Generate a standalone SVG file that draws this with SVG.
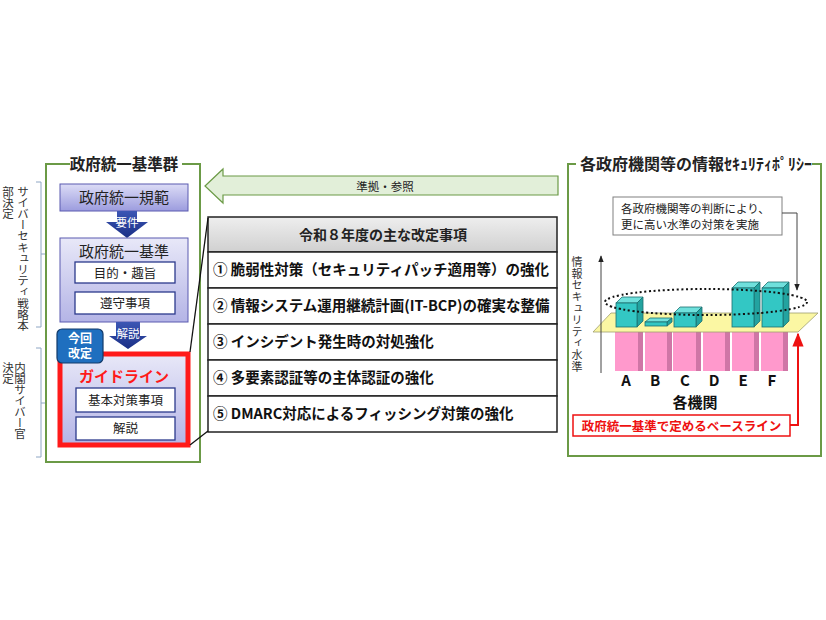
<svg xmlns="http://www.w3.org/2000/svg" width="826" height="620" viewBox="0 0 826 620">
<defs>
  <linearGradient id="gTop" x1="0" y1="0" x2="0" y2="1">
    <stop offset="0" stop-color="#dcdcf6"/>
    <stop offset="1" stop-color="#9c9cde"/>
  </linearGradient>
  <linearGradient id="gMid" x1="0" y1="0" x2="0" y2="1">
    <stop offset="0" stop-color="#e8e8f8"/>
    <stop offset="1" stop-color="#b4b4e6"/>
  </linearGradient>
  <linearGradient id="gHead" x1="0" y1="0" x2="0" y2="1">
    <stop offset="0" stop-color="#eeeeee"/>
    <stop offset="1" stop-color="#d0d0d0"/>
  </linearGradient>
  <linearGradient id="gNavy" x1="0" y1="0" x2="0" y2="1">
    <stop offset="0" stop-color="#3c56b4"/>
    <stop offset="1" stop-color="#1a2f86"/>
  </linearGradient>
  <marker id="mBlack" viewBox="0 0 10 10" refX="9" refY="5" markerWidth="7" markerHeight="7" orient="auto">
    <path d="M0,1 L10,5 L0,9 z" fill="#222"/>
  </marker>
  <marker id="mRed" viewBox="0 0 10 10" refX="9" refY="5" markerWidth="7" markerHeight="7" orient="auto">
    <path d="M0,1 L10,5 L0,9 z" fill="#ee1111"/>
  </marker>
</defs>
<style>
  text { font-family: "Noto Sans CJK JP", "Noto Sans", sans-serif; fill: #222; }
  .b { font-weight: bold; }
  .c { text-anchor: middle; }
  .vt { writing-mode: vertical-rl; fill: #333; }
  .frame { fill: #ffffff; stroke: #6b9a46; stroke-width: 2; }
  .wbox { fill: #ffffff; stroke: #2c3a8c; stroke-width: 1.3; }
  .row { fill: #ffffff; stroke: #222; stroke-width: 1.5; }
  .rt { font-size: 14.5px; font-weight: bold; fill: #111; }
  .teal { fill: #33c7c4; stroke: #1d6f6f; stroke-width: 0.8; }
  .tealT { fill: #6fe0dc; stroke: #1d6f6f; stroke-width: 0.8; }
  .tealS { fill: #23a3a0; stroke: #1d6f6f; stroke-width: 0.8; }
  .pink { fill: #ff99cc; }
  .pinkS { fill: #cf76a6; }
  .lbl { font-size: 15px; font-weight: bold; fill: #111; text-anchor: middle; }
</style>
<rect width="826" height="620" fill="#ffffff"/>

<!-- Left side bracket labels (vertical text) -->
<g id="label-strategy">
  <text class="vt" x="23" y="185.5" font-size="11.5" letter-spacing="-0.3">サイバーセキュリティ戦略本</text>
  <text class="vt" x="8" y="185.5" font-size="11.5" letter-spacing="-0.3">部決定</text>
  <path d="M36,182 H41 V327 H36 M41,254 H46" fill="none" stroke="#8ea6c4" stroke-width="1"/>
</g>
<g id="label-cabinet">
  <text class="vt" x="20" y="361.5" font-size="11.5" letter-spacing="-0.5">内閣サイバー官</text>
  <text class="vt" x="8" y="361.5" font-size="11.5" letter-spacing="-0.5">決定</text>
  <path d="M36,348 H41 V457 H36 M41,403 H46" fill="none" stroke="#8ea6c4" stroke-width="1"/>
</g>

<!-- Left panel -->
<g id="panel-left">
  <rect class="frame" x="46" y="164" width="154" height="298"/>
  <rect x="70" y="154" width="112" height="20" fill="#ffffff"/>
  <text class="b c" x="124" y="170" font-size="15.5">政府統一基準群</text>
</g>

<g id="node-kihan">
  <rect x="60" y="184" width="128" height="27" fill="url(#gTop)" stroke="#5a5ab0" stroke-width="1"/>
  <text class="c" x="124" y="203" font-size="15">政府統一規範</text>
</g>

<g id="arrow-youken">
  <polygon points="117,211 137,211 137,222 148,222 127,238 106,222 117,222" fill="url(#gNavy)"/>
  <text class="c" x="127" y="227" font-size="11.5" style="fill:#ffffff">要件</text>
</g>

<g id="node-kijun">
  <rect x="60" y="238" width="128" height="84" fill="url(#gMid)" stroke="#5a5ab0" stroke-width="1"/>
  <text class="c" x="124" y="257" font-size="15">政府統一基準</text>
  <rect class="wbox" x="75" y="262" width="100" height="21"/>
  <text class="c" x="125" y="277.5" font-size="12.5">目的・趣旨</text>
  <rect class="wbox" x="75" y="292" width="100" height="22"/>
  <text class="c" x="125" y="308" font-size="12.5">遵守事項</text>
</g>

<g id="arrow-kaisetsu">
  <polygon points="116,322 140,322 140,336 147,336 128,349 109,336 116,336" fill="url(#gNavy)"/>
  <text class="c" x="128" y="338" font-size="11.5" style="fill:#ffffff">解説</text>
</g>

<g id="node-guideline">
  <rect x="60" y="354" width="128" height="91" fill="url(#gMid)" stroke="#ff1a1a" stroke-width="5"/>
  <text class="b c" x="124" y="382" font-size="15" style="fill:#ff1a1a">ガイドライン</text>
  <rect class="wbox" x="76" y="388" width="99" height="24"/>
  <text class="c" x="125.5" y="405" font-size="12.5">基本対策事項</text>
  <rect class="wbox" x="76" y="417" width="99" height="23"/>
  <text class="c" x="125.5" y="433" font-size="12.5">解説</text>
</g>

<g id="badge-kaitei">
  <rect x="57" y="329" width="46" height="34" rx="5" fill="#1f6fbf" stroke="#123a6a" stroke-width="1.2"/>
  <text class="b c" font-size="12" style="fill:#ffffff"><tspan x="80" y="342.5">今回</tspan><tspan x="80" y="358">改定</tspan></text>
</g>

<!-- Reference arrow -->
<g id="arrow-junkyo">
  <polygon points="205,186 223,169 223,176 558,176 558,195 223,195 223,203" fill="#e2efd9" stroke="#6b9a46" stroke-width="1.2"/>
  <text class="c" x="385" y="191" font-size="11.5">準拠・参照</text>
</g>

<!-- Revision table -->
<g id="table-revisions">
  <rect x="208" y="217" width="349" height="35" fill="url(#gHead)" stroke="#222" stroke-width="1.5"/>
  <text class="b c" x="383" y="240" font-size="14">令和８年度の主な改定事項</text>
  <rect class="row" x="208" y="252" width="349" height="36"/>
  <text class="rt" x="213" y="275">① 脆弱性対策（セキュリティパッチ適用等）の強化</text>
  <rect class="row" x="208" y="288" width="349" height="36"/>
  <text class="rt" x="213" y="311">② 情報システム運用継続計画(IT-BCP)の確実な整備</text>
  <rect class="row" x="208" y="324" width="349" height="36"/>
  <text class="rt" x="213" y="347">③ インシデント発生時の対処強化</text>
  <rect class="row" x="208" y="360" width="349" height="36"/>
  <text class="rt" x="213" y="383">④ 多要素認証等の主体認証の強化</text>
  <rect class="row" x="208" y="396" width="349" height="36"/>
  <text class="rt" x="213" y="419">⑤ DMARC対応によるフィッシング対策の強化</text>
</g>

<!-- Right panel -->
<g id="panel-right">
  <rect class="frame" x="568" y="164" width="253" height="292"/>
  <rect x="576" y="152" width="236" height="22" fill="#ffffff"/>
  <text class="b" x="580" y="170" font-size="16">各政府機関等の情報ｾｷｭﾘﾃｨﾎﾟﾘｼｰ</text>
</g>

<g id="callout-judgement">
  <rect x="613" y="197" width="169" height="38" fill="#ffffff" stroke="#808080" stroke-width="1"/>
  <text font-size="11.5"><tspan x="621" y="213">各政府機関等の判断により、</tspan><tspan x="621" y="229">更に高い水準の対策を実施</tspan></text>
</g>

<g id="axis-label">
  <text class="vt" x="577" y="256.5" font-size="11" letter-spacing="0.6">情報セキュリティ水準</text>
</g>

<g id="chart">
  <!-- pink baseline bars -->
  <rect class="pink" x="615" y="332" width="23" height="39"/><rect class="pinkS" x="638" y="332" width="5" height="39"/>
  <rect class="pink" x="645" y="332" width="22" height="39"/><rect class="pinkS" x="667" y="332" width="5" height="39"/>
  <rect class="pink" x="673" y="332" width="23" height="39"/><rect class="pinkS" x="696" y="332" width="5" height="39"/>
  <rect class="pink" x="703" y="332" width="22" height="39"/><rect class="pinkS" x="725" y="332" width="5" height="39"/>
  <rect class="pink" x="732" y="332" width="22" height="39"/><rect class="pinkS" x="754" y="332" width="5" height="39"/>
  <rect class="pink" x="761" y="332" width="22" height="39"/><rect class="pinkS" x="783" y="332" width="5" height="39"/>
  <!-- baseline plane -->
  <polygon points="593,332 611,313 818,313 798,332" fill="#fbf7a3" stroke="#a0a070" stroke-width="0.8"/>
  <!-- teal boxes -->
  <polygon class="tealT" points="616,303 637,303 643,297 622,297"/>
  <polygon class="tealS" points="637,303 643,297 643,321 637,327"/>
  <rect class="teal" x="616" y="303" width="21" height="24"/>
  <polygon class="tealT" points="645,322 667,322 672,318 650,318"/>
  <polygon class="tealS" points="667,322 672,318 672,322 667,326"/>
  <rect class="teal" x="645" y="322" width="22" height="4"/>
  <polygon class="tealT" points="674,313 696,313 702,307 680,307"/>
  <polygon class="tealS" points="696,313 702,307 702,321 696,327"/>
  <rect class="teal" x="674" y="313" width="22" height="14"/>
  <polygon class="tealT" points="732,288 754,288 760,282 738,282"/>
  <polygon class="tealS" points="754,288 760,282 760,321 754,327"/>
  <rect class="teal" x="732" y="288" width="22" height="39"/>
  <polygon class="tealT" points="762,288 783,288 789,282 768,282"/>
  <polygon class="tealS" points="783,288 789,282 789,321 783,327"/>
  <rect class="teal" x="762" y="288" width="21" height="39"/>
  <!-- dotted ellipse -->
  <ellipse cx="706" cy="302" rx="101" ry="13" fill="none" stroke="#111" stroke-width="2" stroke-dasharray="2 2.6"/>
  <!-- labels -->
  <text class="lbl" x="626" y="386">A</text>
  <text class="lbl" x="655" y="386">B</text>
  <text class="lbl" x="685" y="386">C</text>
  <text class="lbl" x="714" y="386">D</text>
  <text class="lbl" x="743" y="386">E</text>
  <text class="lbl" x="772" y="386">F</text>
  <text class="lbl" x="695" y="408">各機関</text>
</g>

<g id="node-baseline">
  <rect x="573" y="415" width="217" height="21" fill="#ffffff" stroke="#ee1111" stroke-width="1.5"/>
  <text class="b c" x="681.5" y="430.5" font-size="12.5" style="fill:#ee1111">政府統一基準で定めるベースライン</text>
</g>

<!-- Connectors -->
<g id="connectors" fill="none">
  <line x1="190" y1="352" x2="208" y2="218" stroke="#111" stroke-width="1.3"/>
  <line x1="190" y1="445" x2="208" y2="431" stroke="#111" stroke-width="1.3"/>
  <line x1="601" y1="373" x2="601" y2="256" stroke="#444" stroke-width="1" marker-end="url(#mBlack)"/>
  <polyline points="782,213 797,213 797,290" stroke="#444" stroke-width="1" marker-end="url(#mBlack)"/>
  <polyline points="790,425 798,425 798,334" stroke="#ee1111" stroke-width="2" marker-end="url(#mRed)"/>
</g>
</svg>
